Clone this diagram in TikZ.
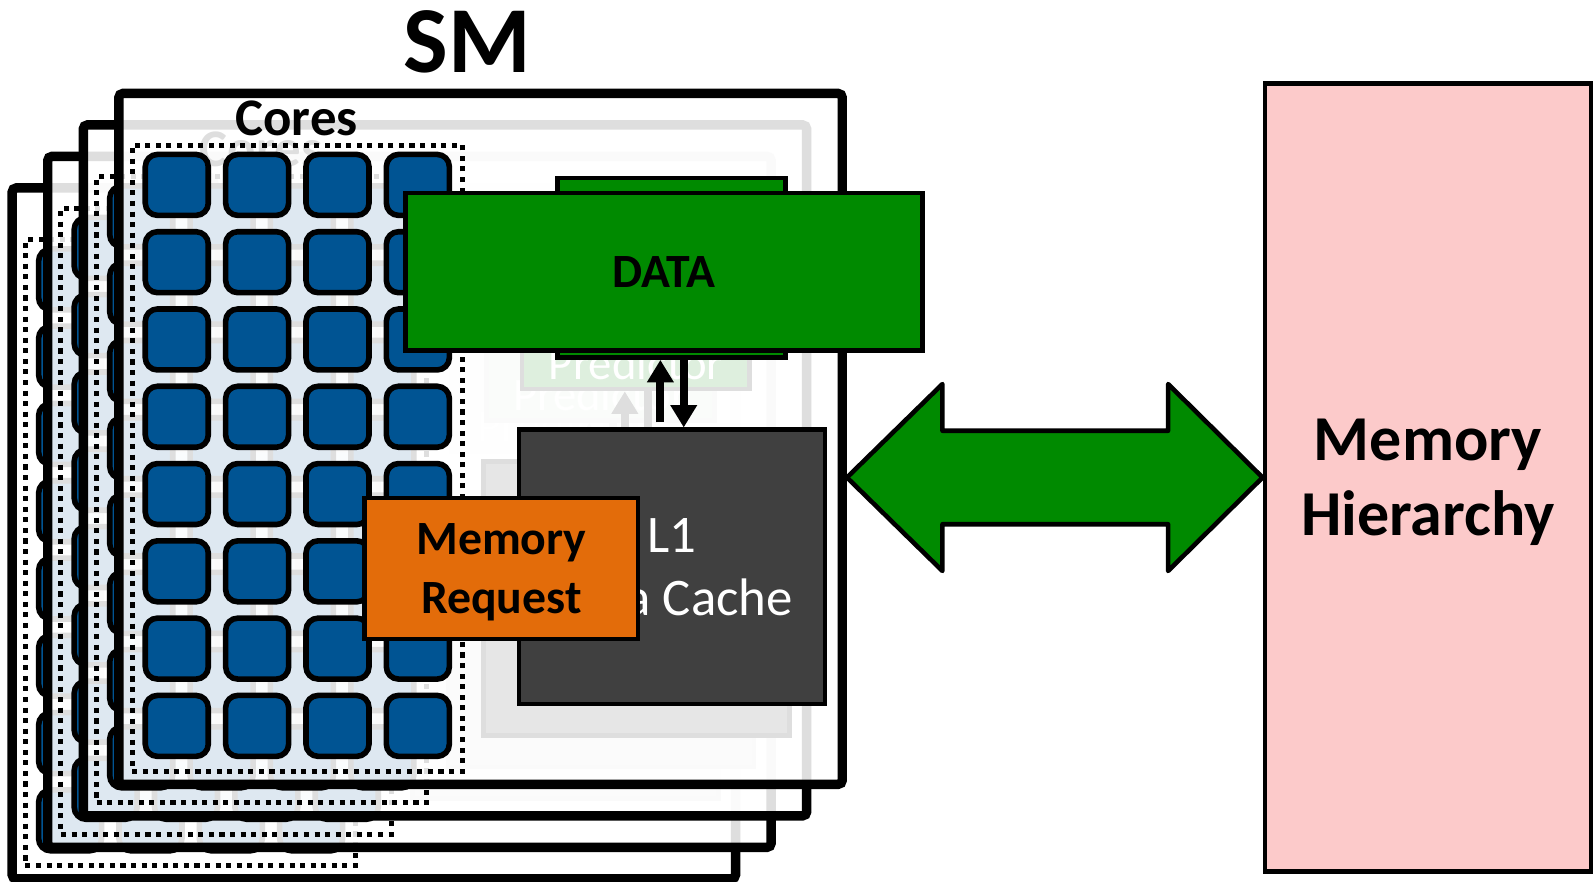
\documentclass[tikz,border=0pt]{standalone}
\usepackage{fontspec}
\setmainfont{Carlito}
\usetikzlibrary{arrows.meta,calc}
\definecolor{coreblue}{RGB}{0,84,147}
\definecolor{datagreen}{RGB}{0,138,0}
\definecolor{reqorange}{RGB}{227,108,10}
\definecolor{cachegray}{RGB}{64,64,64}
\definecolor{mempink}{RGB}{252,202,202}

\begin{document}
\begin{tikzpicture}[x=1pt,y=-1pt,
  smframe/.style={draw=black, line width=9.3pt, fill=white, fill opacity=0.87,
    rounded corners=4pt, minimum width=712pt, minimum height=680pt, inner sep=0pt},
  coreslabel/.style={anchor=base, font=\bfseries\fontsize{52}{60}\selectfont},
  coresbox/.style={draw=black, line width=5pt, dash pattern=on 5pt off 5.4pt,
    minimum width=325pt, minimum height=616pt, inner sep=0pt},
  coresq/.style={draw=black, line width=5.5pt, fill=coreblue, rounded corners=12pt,
    minimum width=62pt, minimum height=60pt, inner sep=0pt},
  predbox/.style={draw=black, line width=4.5pt, fill=datagreen,
    minimum width=224pt, minimum height=177pt, inner sep=0pt},
  predtext/.style={text=white, font=\fontsize{46}{54}\selectfont},
  l1box/.style={draw=black, line width=4.5pt, fill=cachegray, text=white,
    minimum width=301pt, minimum height=270pt, inner sep=0pt, align=center,
    text depth=0pt, font=\fontsize{52}{62}\selectfont},
  flowarrow/.style={line width=8pt, -{Triangle[width=25pt,length=22pt]}},
  databox/.style={draw=black, line width=4.5pt, fill=datagreen,
    minimum width=509pt, minimum height=155pt, inner sep=0pt,
    font=\bfseries\fontsize{47}{54}\selectfont},
  reqbox/.style={draw=black, line width=4.5pt, fill=reqorange,
    minimum width=269pt, minimum height=139pt, inner sep=0pt, align=center,
    text depth=0pt, font=\bfseries\fontsize{47}{58}\selectfont},
  membox/.style={draw=black, line width=4.5pt, fill=mempink,
    minimum width=321pt, minimum height=776pt, inner sep=0pt, align=center,
    text depth=0pt, font=\bfseries\fontsize{63}{74}\selectfont},
  bigarrow/.style={draw=black, line width=4.5pt, fill=datagreen, line join=round},
  title/.style={anchor=base, font=\bfseries\fontsize{93}{100}\selectfont}
]
\useasboundingbox (0,0) rectangle (1568,868);

% stacked SM copies, drawn from the back one to the front one
\foreach \k in {3,2,1,0} {
  \pgfmathsetmacro\ox{-35*\k}
  \pgfmathsetmacro\oy{31*\k}
  \node[smframe] (sm\k) at ({473+\ox},{432+\oy}) {};
  \node[coreslabel] (cl\k) at ({292+\ox},{133+\oy}) {Cores};
  \node[coresbox] (cb\k) at ({292.5+\ox},{451+\oy}) {};
  \foreach \i in {0,...,3} {
    \foreach \j in {0,...,7} {
      \node[coresq] (c\k-\i-\j) at ({174+79.1*\i+\ox},{182+76.07*\j+\oy}) {};
    }
  }
  \node[predbox] (pred\k) at ({661+\ox},{263.5+\oy}) {};
  \node[predtext] (pt\k) at ($(pred\k.south)+(0,-28)$) {Predictor};
  \node[l1box] (l1\k) at ({661.5+\ox},{558+\oy}) {L1\\Data Cache};
  \coordinate (upS\k) at ($(l1\k.north)+(-11.5,-5)$);
  \coordinate (upE\k) at (upS\k |- pred\k.south);
  \coordinate (dnE\k) at ($(l1\k.north)+(11.5,0)$);
  \coordinate (dnS\k) at (dnE\k |- pred\k.south);
  \draw[flowarrow] (upS\k) -- (upE\k);
  \draw[flowarrow] (dnS\k) -- (dnE\k);
}

% data returned and the outgoing request
\node[databox] (data) at (653.5,267.5) {DATA};
\node[reqbox] (req) at (493.5,559.5) {Memory\\Request};

% memory side
\node[membox] (mem) at (1405.5,470) {Memory\\Hierarchy};
\coordinate (tipL) at ($(sm0.east)+(0,38)$);
\coordinate (tipR) at (mem.west |- tipL);
\draw[bigarrow] (tipL) -- ++(94,-92) -- ++(0,46) -- ($(tipR)+(-93,-46)$)
  -- ++(0,-46) -- (tipR) -- ++(-93,92) -- ++(0,-46) -- ($(tipL)+(94,46)$)
  -- ++(0,46) -- cycle;

\node[title] (smtitle) at (460,71) {SM};
\end{tikzpicture}
\end{document}
